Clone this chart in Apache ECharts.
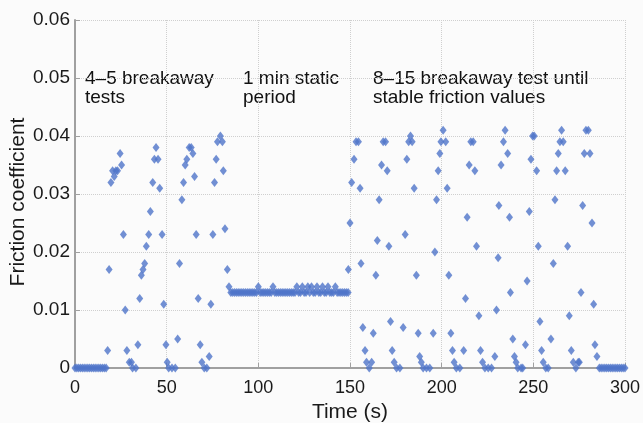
<!DOCTYPE html>
<html>
<head>
<meta charset="utf-8">
<script src="https://cdn.jsdelivr.net/npm/echarts@6/dist/echarts.min.js"></script>
<style>
  html, body { margin: 0; padding: 0; background: #fbfbfb; }
  #chart { width: 643px; height: 423px; }
</style>
</head>
<body>
<div id="chart"></div>
<script>
// breakaway tests (0-84 s)
var breakTimes = [0,1,2,3,4,5,6,7,8,9,10,11,12,13,14,15,16,17,
  17.8,18.6,19.6,20.5,21.4,22.3,23.2,24.6,25.4,26.4,27.4,28.3,29.6,30.8,31.4,33.2,
  34.3,35.3,36.2,37.1,38,38.9,40.2,41.1,42.4,43.3,44.2,45.3,46.2,47.5,48.4,49.6,50.3,51.1,52.9,54.7,
  56,57,58.3,59.2,60.1,61,62.3,63.4,64.3,65.2,66.1,67.2,68.3,69.2,70.5,71.9,
  73.2,74.1,75.2,76.1,77,77.7,79.3,80.4,80.9,81.8,83.1,84];
var breakValues = [0,0,0,0,0,0,0,0,0,0,0,0,0,0,0,0,0,0,
  0.003,0.017,0.032,0.034,0.033,0.034,0.034,0.037,0.035,0.023,0.010,0.003,0.001,0.001,0,0,
  0.004,0.012,0.016,0.017,0.018,0.021,0.023,0.027,0.032,0.036,0.038,0.036,0.031,0.023,0.011,0.004,0.001,0,0,0,
  0.005,0.018,0.029,0.032,0.035,0.036,0.038,0.038,0.037,0.033,0.023,0.012,0.004,0.001,0,0,
  0.002,0.011,0.023,0.032,0.036,0.039,0.040,0.039,0.034,0.024,0.017,0.014];

// 1 min static period (85-149 s)
var staticTimes = [];
var staticValues = [0.013,0.013,0.013,0.013,0.013,0.013,0.013,0.013,0.013,0.013,
  0.013,0.013,0.013,0.013,0.013,0.014,0.013,0.013,0.013,0.013,
  0.013,0.013,0.013,0.014,0.013,0.013,0.013,0.013,0.013,0.013,
  0.013,0.013,0.013,0.013,0.013,0.013,0.014,0.013,0.013,0.014,
  0.013,0.013,0.014,0.013,0.014,0.013,0.013,0.014,0.013,0.013,
  0.014,0.013,0.013,0.014,0.013,0.013,0.013,0.014,0.013,0.013,
  0.013,0.013,0.013,0.013,0.013];
for (var t = 85; t <= 149; t++) staticTimes.push(t);

// 8-15 breakaway tests until stable (149-300 s)
var stableTimes = [149.1,150,150.9,152.2,153.3,154.6,155.5,156,157,158.2,159,160.5,161.8,
  162.7,164.1,164.9,165.9,167.2,168.1,169.4,170.3,171.2,172.1,173,174.1,175.4,177.2,
  179,180.1,181,182,183,183.9,185,186.2,187.2,188,188.9,189.9,191.7,193.5,
  195.4,196.3,197.2,198.1,199,199.6,200.8,202.2,203,203.9,205,205.9,206.8,208,209.9,
  212,213,213.9,215,215.9,217.2,218.1,219,220.3,221.2,222.3,223.6,225.4,227.2,
  229,229.9,230.8,231.2,232.4,233.7,234.6,236,237,237.5,238.8,239.7,240.6,241.5,243.3,244.2,
  245.7,246.6,247.8,248.7,249.6,250.5,251.8,252.7,253.6,254.5,255.4,256.8,258.1,
  259.6,260.9,261.8,262.7,263.6,264.5,265.4,266.3,267.4,268.7,269.6,270.7,271.8,273.2,274.5,275.1,
  276,276.9,277.8,278.7,280,280.9,282,282.9,283.6,284.7,
  286,287,288,289,290,291,292,293,294,295,296,297,298,299,300];
var stableValues = [0.017,0.025,0.032,0.036,0.039,0.039,0.031,0.018,0.007,0.003,0.001,0,0.001,
  0.006,0.016,0.022,0.029,0.035,0.039,0.039,0.034,0.021,0.008,0.003,0.001,0,0,
  0.007,0.023,0.036,0.039,0.040,0.039,0.031,0.016,0.006,0.002,0.001,0,0,0,
  0.006,0.020,0.029,0.034,0.037,0.039,0.041,0.039,0.031,0.016,0.006,0.003,0.001,0,0,
  0.003,0.012,0.026,0.035,0.039,0.039,0.034,0.021,0.009,0.003,0.001,0,0,0,
  0.002,0.010,0.019,0.028,0.035,0.039,0.041,0.037,0.026,0.013,0.005,0.002,0.001,0,0,0,
  0.004,0.015,0.027,0.036,0.040,0.040,0.034,0.021,0.008,0.003,0.001,0,0,
  0.005,0.018,0.029,0.034,0.037,0.039,0.041,0.039,0.034,0.021,0.009,0.003,0.001,0,0.001,0.001,
  0.013,0.028,0.037,0.041,0.041,0.037,0.025,0.011,0.004,0.002,
  0,0,0,0,0,0,0,0,0,0,0,0,0,0,0];

var xTicks = [0, 50, 100, 150, 200, 250, 300];
var yTicks = [0, 0.01, 0.02, 0.03, 0.04, 0.05, 0.06];

function pairs(xs, ys) {
  var out = [];
  for (var i = 0; i < xs.length; i++) out.push([xs[i], ys[i]]);
  return out;
}

var allData = pairs(breakTimes, breakValues)
  .concat(pairs(staticTimes, staticValues))
  .concat(pairs(stableTimes, stableValues));

var myChart = echarts.init(document.getElementById('chart'));
var font = '"Liberation Sans", Arial, sans-serif';
var gridLine = { show: true, lineStyle: { color: '#cfcfcf', type: 'dotted', width: 1 } };
var noteStyle = { fontFamily: font, fontSize: 19, fill: '#111', lineHeight: 19 };

var option = {
  backgroundColor: '#fbfbfb',
  animation: false,
  grid: { left: 75, right: 18, top: 20, bottom: 55, outerBoundsMode: 'none', containLabel: false },
  xAxis: {
    type: 'value',
    min: xTicks[0],
    max: xTicks[xTicks.length - 1],
    interval: 50,
    name: 'Time (s)',
    nameLocation: 'middle',
    nameGap: 29,
    nameTextStyle: { fontFamily: font, fontSize: 21, color: '#1a1a1a' },
    axisLine: { onZero: false, lineStyle: { color: '#a0a0a0', width: 2 } },
    axisTick: { inside: true, length: 5, lineStyle: { color: '#a0a0a0' } },
    axisLabel: { fontFamily: font, fontSize: 18, color: '#1a1a1a', margin: 11 },
    splitLine: gridLine
  },
  yAxis: {
    type: 'value',
    min: yTicks[0],
    max: yTicks[yTicks.length - 1],
    interval: 0.01,
    axisLine: { show: true, lineStyle: { color: '#a0a0a0', width: 2 } },
    axisTick: { show: true, inside: true, length: 5, lineStyle: { color: '#a0a0a0' } },
    axisLabel: {
      fontFamily: font, fontSize: 19, color: '#1a1a1a', margin: 5,
      formatter: function (v) { return v === 0 ? '0' : v.toFixed(2); }
    },
    splitLine: gridLine
  },
  graphic: [
    // y axis title, placed by hand so it can sit a bit below the plot centre like the original
    { type: 'text', x: 18, y: 202, rotation: Math.PI / 2,
      style: { text: 'Friction coefficient', fontFamily: font, fontSize: 21, fill: '#1a1a1a',
        align: 'center', verticalAlign: 'middle' } },
    { type: 'text', left: 85, top: 69,
      style: Object.assign({ text: '4\u20135 breakaway\ntests' }, noteStyle) },
    { type: 'text', left: 243, top: 69,
      style: Object.assign({ text: '1 min static\nperiod' }, noteStyle) },
    { type: 'text', left: 373, top: 69,
      style: Object.assign({ text: '8\u201315 breakaway test until\nstable friction values' }, noteStyle) }
  ],
  series: [{
    type: 'scatter',
    data: allData,
    symbol: 'diamond',
    symbolSize: [7, 9],
    itemStyle: { color: '#4f74c9' }
  }]
};

myChart.setOption(option);
</script>
</body>
</html>
